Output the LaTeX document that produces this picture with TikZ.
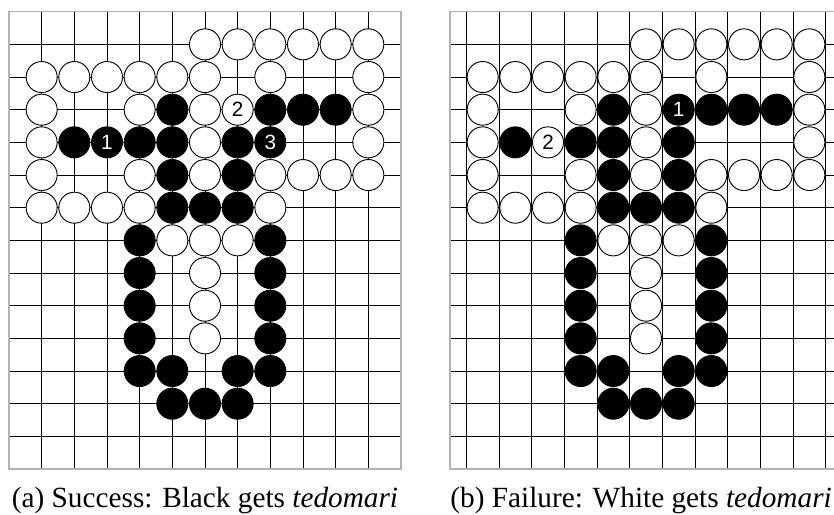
\documentclass[tikz,border=0pt]{standalone}
\usepackage{fontspec}
\setmainfont{Liberation Serif}
\newfontfamily\stonefont{Liberation Sans}
\usetikzlibrary{positioning}

\begin{document}
\begin{tikzpicture}[x=1cm, y=1cm,
    wstone/.style={circle, draw, fill=white, line width=0.8pt, minimum size=0.95cm, inner sep=0pt, font=\stonefont\fontsize{18}{18}\selectfont},
    bstone/.style={wstone, fill=black, text=white},
    caption/.style={anchor=base, inner sep=0pt, font=\fontsize{25.5}{28}\selectfont}]

    \clip (-0.275,0.358) rectangle (25.255,-15.406);

    % the two boards, with the stones that they share
    \foreach \bd/\dx in {a/0, b/13.5} {
        \draw[line width=0.7pt] (\dx,0) grid (\dx+12,-14);
        \draw[line width=1.2pt, black!30] (\dx,0) rectangle (\dx+12,-14);
        \foreach \c/\r in {6/1,7/1,8/1,9/1,10/1,11/1,
                           1/2,2/2,3/2,4/2,5/2,6/2,8/2,11/2,
                           1/3,4/3,6/3,11/3,
                           1/4,6/4,11/4,
                           1/5,4/5,6/5,8/5,9/5,10/5,11/5,
                           1/6,2/6,3/6,4/6,8/6,
                           5/7,6/7,7/7,
                           6/8,6/9,6/10}
            \node[wstone] (\bd-\c-\r) at (\dx+\c,-\r) {};
        \foreach \c/\r in {5/3,8/3,9/3,10/3,
                           2/4,4/4,5/4,7/4,
                           5/5,7/5,
                           5/6,6/6,7/6,
                           4/7,8/7,
                           4/8,8/8,4/9,8/9,4/10,8/10,
                           4/11,5/11,7/11,8/11,
                           5/12,6/12,7/12}
            \node[bstone] (\bd-\c-\r) at (\dx+\c,-\r) {};
    }

    % (a) moves
    \node[wstone] (a-7-3) at (7,-3) {2};
    \node[bstone] (a-3-4) at (3,-4) {1};
    \node[bstone] (a-8-4) at (8,-4) {3};

    % (b) moves
    \node[bstone] (b-7-3) at (13.5+7,-3) {1};
    \node[wstone] (b-3-4) at (13.5+3,-4) {2};

    \node[caption] (capa) at (6,-15.18) {(a) Success: Black gets \textit{tedomari}};
    \node[caption] (capb) at (19.35,-15.18) {(b) Failure: White gets \textit{tedomari}};
\end{tikzpicture}
\end{document}
